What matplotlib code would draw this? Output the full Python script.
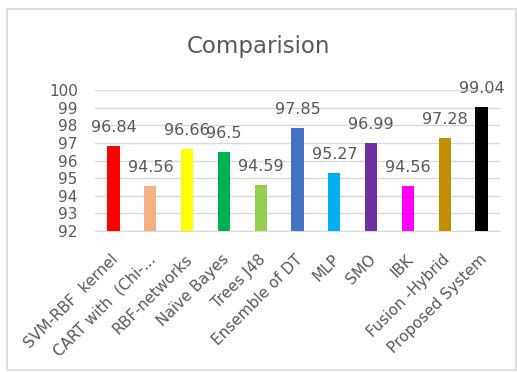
import matplotlib.pyplot as plt
from matplotlib.patches import Rectangle
from matplotlib.transforms import ScaledTranslation

# categories and scores
methods = ["SVM-RBF  kernel", "CART with  (Chi-...", "RBF-networks", "Naïve Bayes",
           "Trees J48", "Ensemble of DT", "MLP", "SMO", "IBK", "Fusion -Hybrid",
           "Proposed System"]
scores = [96.84, 94.56, 96.66, 96.5, 94.59, 97.85, 95.27, 96.99, 94.56, 97.28, 99.04]
bar_colors = ["#FF0000", "#F4B183", "#FFFF00", "#00B050", "#92D050", "#4472C4",
              "#00B0F0", "#7030A0", "#FF00FF", "#BF8F00", "#000000"]
y_ticks = [92, 93, 94, 95, 96, 97, 98, 99, 100]

text_gray = "#595959"

fig = plt.figure(figsize=(5.17, 3.72), dpi=100)
ax = fig.add_axes([0.184, 0.379, 0.783, 0.379])

x = range(len(methods))
ax.bar(x, [s - 92 for s in scores], bottom=92, width=0.335,
       color=bar_colors, zorder=3)

for xi, s in zip(x, scores):
    ax.annotate(f"{s:g}", (xi, s), xytext=(0, 10), textcoords="offset points",
                ha="center", va="baseline", fontsize=11.5, color=text_gray, zorder=4)

ax.set_xlim(-0.5, len(methods) - 0.5)
ax.set_ylim(92, 100)
ax.set_yticks(y_ticks)
ax.set_xticks(list(x))
ax.set_xticklabels(methods, rotation=45, ha="right", fontsize=11, color=text_gray)
ax.tick_params(axis="y", length=0, pad=12.5, labelsize=11, labelcolor=text_gray)
ax.tick_params(axis="x", length=0, pad=15)

# nudge the slanted labels a little right, as in the original
shift = ScaledTranslation(8 / 100, 0, fig.dpi_scale_trans)
for lbl in ax.get_xticklabels():
    lbl.set_transform(lbl.get_transform() + shift)

ax.grid(axis="y", color="#D9D9D9", linewidth=1, zorder=0)
for side in ["top", "right", "left"]:
    ax.spines[side].set_visible(False)
ax.spines["bottom"].set_color("#D9D9D9")

fig.text(0.5, 0.876, "Comparision", ha="center", va="center",
         fontsize=16.5, color=text_gray)

# chart area frame
fig.patches.append(Rectangle((7 / 517, 2 / 372), 509 / 517, 361 / 372,
                             transform=fig.transFigure, fill=False,
                             edgecolor="#D9D9D9", linewidth=1.2))

fig.savefig("out.png", dpi=100)
